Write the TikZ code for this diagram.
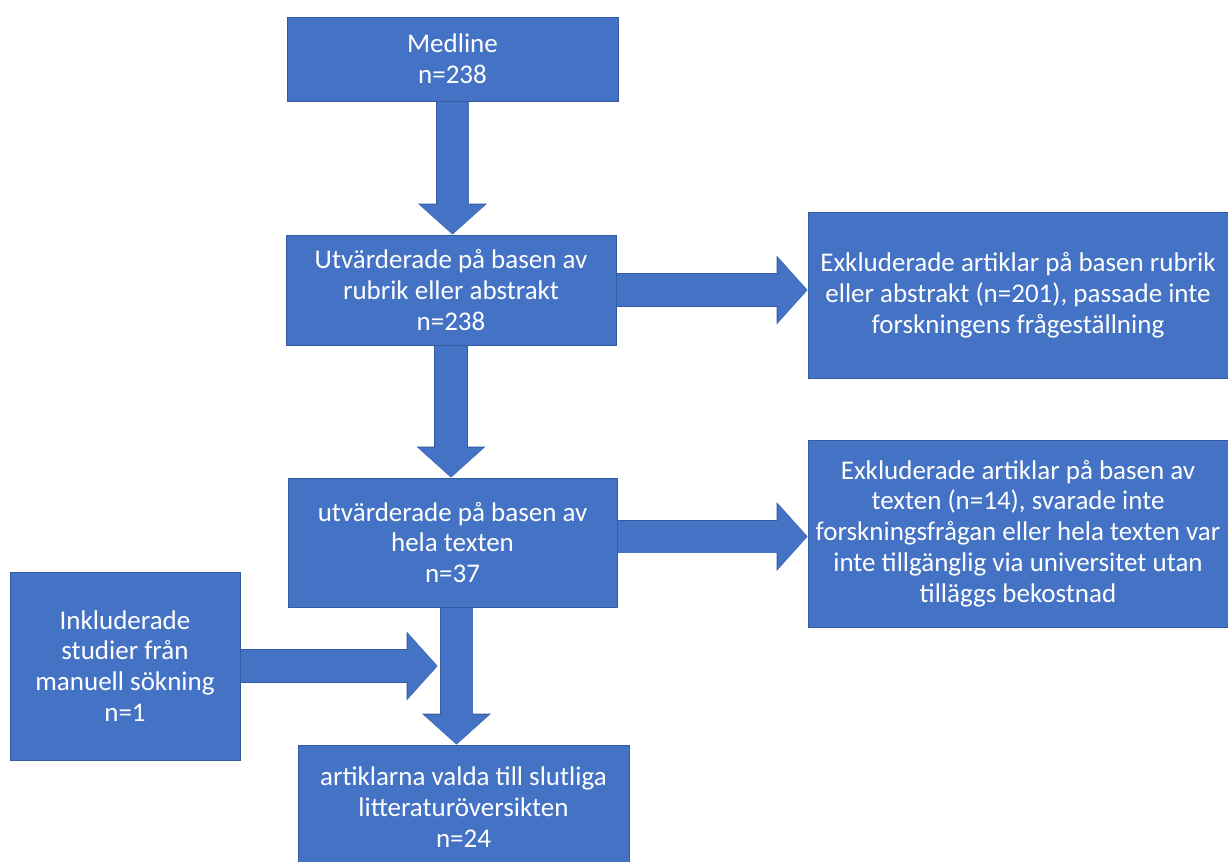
\documentclass[tikz,border=0pt]{standalone}
\usepackage{fontspec}
\setmainfont{Carlito}
\usetikzlibrary{arrows.meta}
\definecolor{boxblue}{RGB}{68,114,196}
\definecolor{boxedge}{RGB}{52,90,160}
\begin{document}
\begin{tikzpicture}[x=0.5pt,y=-0.5pt,
box/.style={rectangle,fill=boxblue,draw=boxedge,line width=0.5pt,text=white,align=center,inner sep=0pt,font=\fontsize{13.5}{15.4}\selectfont},
bigarrow/.style={draw=boxblue,line width=16pt,-{Triangle[length=15pt 0,width=32pt 0]},
 preaction={draw=boxedge,line width=16.8pt,-{Triangle[length=15.4pt 0,width=33.5pt 0]}}}]
\useasboundingbox (0,0) rectangle (1228,862);
\node[box] (medline)[minimum width=165.5pt,minimum height=42pt] at (452.5,59) {Medline\\n=238};
\node[box] (eval)[minimum width=165pt,minimum height=55pt] at (451,290) {Utvärderade på basen av\\rubrik eller abstrakt\\n=238};
\node[box] (excl1)[minimum width=210pt,minimum height=83pt] at (1018,295) {Exkluderade artiklar på basen rubrik\\eller abstrakt (n=201), passade inte\\forskningens frågeställning};
\node[box] (full)[minimum width=164.5pt,minimum height=64.5pt] at (452.5,542.5) {utvärderade på basen av\\hela texten\\n=37};
\node[box] (excl2)[minimum width=210pt,minimum height=93.5pt] at (1018,533.5) {Exkluderade artiklar på basen av\\texten (n=14), svarade inte\\forskningsfrågan eller hela texten var\\inte tillgänglig via universitet utan\\tilläggs bekostnad};
\node[box] (incl)[minimum width=115pt,minimum height=94pt] at (125,666) {Inkluderade\\studier från\\manuell sökning\\n=1};
\node[box] (final)[minimum width=165.5pt,minimum height=62pt] at (463.5,807) {artiklarna valda till slutliga\\litteraturöversikten\\n=24};
\draw[bigarrow] (medline.south) -- (medline.south |- eval.north);
\draw[bigarrow] (eval.south) -- (eval.south |- full.north);
\draw[bigarrow] (eval.east) -- (eval.east -| excl1.west);
\draw[bigarrow] ([yshift=3pt]full.east) -- ([yshift=3pt]full.east -| excl2.west);
\draw[bigarrow] ([xshift=2pt]full.south) -- ([xshift=2pt]full.south |- final.north);
\draw[bigarrow,shorten >=7.5pt] (incl.east) -- (incl.east -| full.south);
\end{tikzpicture}
\end{document}
